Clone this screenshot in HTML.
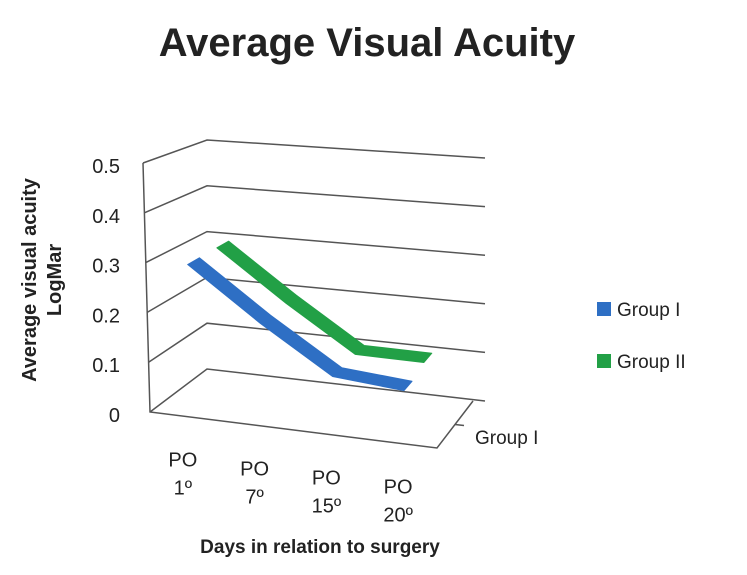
<!DOCTYPE html>
<html><head><meta charset="utf-8"><style>
body{margin:0;background:#fff;}
svg text{font-family:"Liberation Sans",sans-serif;fill:#222;}
</style></head><body>
<svg width="747" height="570" xmlns="http://www.w3.org/2000/svg">
<text x="367" y="56" text-anchor="middle" font-size="40" font-weight="bold">Average Visual Acuity</text>
<g id="grid"></g>
<g id="series"></g>
<g id="ylabels"></g>
<g id="xlabels"></g>
<g transform="translate(44,280) rotate(-90)">
<text x="0" y="-8" text-anchor="middle" font-size="20" font-weight="bold">Average visual acuity</text>
<text x="0" y="17" text-anchor="middle" font-size="20" font-weight="bold">LogMar</text>
</g>
<text x="320" y="553" text-anchor="middle" font-size="19" font-weight="bold">Days  in relation to surgery</text>
<text x="475" y="444" font-size="19">Group I</text>
<g>
<g><rect x="597" y="302" width="14" height="14" fill="#2e6fc4"/><text x="617" y="316" font-size="19">Group I</text></g>
<g><rect x="597" y="354" width="14" height="14" fill="#22a046"/><text x="617" y="368" font-size="19">Group II</text></g>
</g>
</svg>
<script>
const categories=["PO|1º","PO|7º","PO|15º","PO|20º"];
const yTicks=[0,0.1,0.2,0.3,0.4,0.5];
const group1=[0.3,0.2,0.11,0.1];
const group2=[0.3,0.2,0.11,0.11];
const NS="http://www.w3.org/2000/svg";
// corner bases and per-unit value vectors
const FL=[150,412,-14,-498],BL=[207,369,0,-458],FR=[437,448,-10,-480],BR=[473,401,0,-486];
function lerp(a,b,t){return a+(b-a)*t;}
function proj(i,d,v){
  const t=i/4;
  const f=[0,1,2,3].map(k=>lerp(FL[k],FR[k],t));
  const b=[0,1,2,3].map(k=>lerp(BL[k],BR[k],t));
  const c=[0,1,2,3].map(k=>lerp(f[k],b[k],d));
  return [c[0]+c[2]*v,c[1]+c[3]*v];
}
function mk(tag,attrs,parent){const e=document.createElementNS(NS,tag);for(const k in attrs)e.setAttribute(k,attrs[k]);parent.appendChild(e);return e;}
const grid=document.getElementById('grid');
yTicks.forEach(v=>{
  const a=proj(0,0,v),b=proj(0,1,v),c=proj(4,1,v);
  const e=[c[0]+12,c[1]];
  const l=mk('polyline',{points:`${a[0]},${a[1]} ${b[0]},${b[1]} ${e[0]},${e[1]}`,fill:'none',stroke:'#555','stroke-width':1.5},grid);
  
  
});
const fa=proj(0,0,0),fb=proj(0,0,0.5),fr=proj(4,0,0),br=proj(4,1,0);
const ax=mk('polyline',{points:`${fb[0]},${fb[1]} ${fa[0]},${fa[1]} ${fr[0]},${fr[1]} ${br[0]},${br[1]}`,fill:'none',stroke:'#555','stroke-width':1.5},grid);


const mid=proj(4,0.5,0);
mk('line',{x1:mid[0],y1:mid[1],x2:mid[0]+9,y2:mid[1]+1,stroke:'#555','stroke-width':1.5},grid);
const ser=document.getElementById('series');
function ribbon(vals,d,color,name){
  const top=vals.map((v,i)=>proj(i+0.5,d+0.1,v));
  const bot=vals.map((v,i)=>proj(i+0.5,d-0.1,v)).reverse();
  const pts=top.concat(bot).map(p=>p[0].toFixed(1)+','+p[1].toFixed(1)).join(' ');
  const p=mk('polygon',{points:pts,fill:color,stroke:color,'stroke-width':1,'stroke-linejoin':'round'},ser);
  
  
}
ribbon(group2,0.7,'#22a046','series-group-2');
ribbon(group1,0.2,'#2e6fc4','series-group-1');
const yl=document.getElementById('ylabels');
yTicks.forEach(v=>{
  const p=proj(0,0,v);
  const t=mk('text',{x:120,y:p[1]+10,'text-anchor':'end','font-size':20},yl);
  t.textContent=v===0?'0':v.toFixed(1);
  
  
});
const xl=document.getElementById('xlabels');
categories.forEach((c,i)=>{
  const p=proj(i+0.5,0,0);
  const parts=c.split('|');
  const t=mk('text',{x:p[0]-3,y:p[1]+50,'text-anchor':'middle','font-size':20},xl);
  
  
  parts.forEach((s,k)=>{const ts=mk('tspan',{x:p[0]-3,dy:k?28:0},t);ts.textContent=s;});
});
</script>
</body></html>
